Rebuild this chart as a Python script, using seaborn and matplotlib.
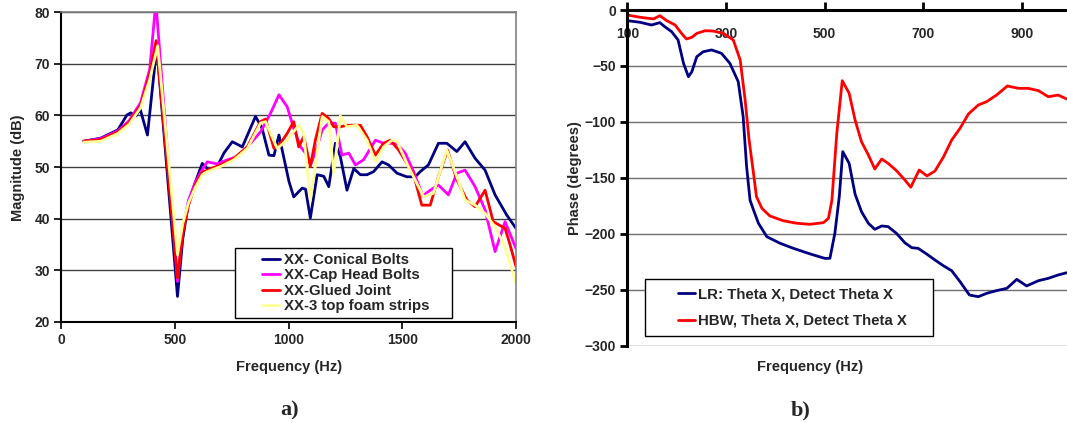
import matplotlib
matplotlib.use("Agg")
import matplotlib.pyplot as plt
from matplotlib.lines import Line2D
from matplotlib.legend_handler import HandlerLine2D
import seaborn as sns
import pandas as pd

# ---------------- data: panel a) magnitude ----------------
conical_f = [100, 175, 250, 290, 307, 329, 348, 380, 421, 512, 535, 560, 590, 621, 650, 687, 716, 753, 797,
             855, 884, 914, 936, 958, 1002, 1023, 1060, 1075, 1096, 1126, 1155, 1177, 1206, 1228, 1257, 1287,
             1316, 1345, 1374, 1411, 1440, 1477, 1520, 1557, 1579, 1615, 1659, 1696, 1740, 1776, 1820, 1864,
             1908, 1959, 2000]
conical_v = [55.0, 55.6, 57.2, 60.1, 60.5, 59.9, 61.2, 56.2, 73.3, 24.9, 36.0, 43.0, 47.0, 50.7, 49.4, 50.1,
             52.7, 54.9, 53.9, 59.8, 57.5, 52.3, 52.2, 56.2, 47.2, 44.2, 45.9, 45.7, 40.1, 48.5, 48.2, 46.2,
             54.6, 52.0, 45.5, 49.7, 48.5, 48.5, 49.1, 51.0, 50.4, 48.8, 48.1, 48.1, 49.1, 50.4, 54.6, 54.6,
             53.0, 54.9, 51.7, 49.4, 44.6, 40.7, 38.1]

caphead_f = [100, 175, 250, 300, 350, 390, 417, 512, 535, 560, 590, 621, 643, 687, 731, 775, 819, 877, 921,
             958, 994, 1023, 1053, 1075, 1100, 1126, 1148, 1177, 1206, 1235, 1265, 1294, 1330, 1382, 1418,
             1447, 1477, 1513, 1550, 1590, 1623, 1659, 1703, 1740, 1776, 1820, 1864, 1908, 1952, 2000]
caphead_v = [55.0, 55.5, 57.0, 59.0, 62.5, 69.0, 82.0, 27.8, 38.0, 43.5, 47.0, 49.5, 51.0, 50.6, 51.4, 52.0,
             53.9, 56.8, 60.4, 64.0, 61.7, 57.5, 53.9, 52.7, 50.7, 53.9, 57.2, 58.5, 58.5, 52.3, 52.7, 50.4,
             51.4, 55.2, 54.6, 54.6, 54.5, 52.7, 49.1, 44.4, 45.5, 46.5, 44.6, 48.8, 49.4, 46.2, 41.7, 33.6,
             39.4, 34.2]

glued_f = [100, 175, 250, 300, 350, 390, 418, 512, 535, 560, 590, 621, 643, 702, 760, 819, 877, 899, 936,
           965, 994, 1023, 1045, 1067, 1096, 1118, 1148, 1177, 1199, 1228, 1257, 1316, 1345, 1382, 1418,
           1447, 1484, 1520, 1550, 1586, 1623, 1659, 1699, 1740, 1784, 1820, 1864, 1900, 1952, 1974, 2000]
glued_v = [55.0, 55.3, 56.8, 58.7, 62.0, 68.0, 74.5, 28.5, 37.0, 42.5, 46.5, 49.0, 49.4, 50.4, 51.7, 53.9,
           58.8, 59.3, 53.6, 54.6, 56.5, 58.8, 53.9, 55.9, 50.1, 55.2, 60.4, 59.4, 57.8, 57.8, 58.1, 58.1,
           55.9, 52.3, 54.6, 55.2, 53.3, 50.7, 48.5, 42.6, 42.6, 48.1, 53.3, 47.5, 43.6, 42.3, 45.5, 39.4,
           38.1, 34.9, 30.7]

foam_f = [100, 175, 250, 300, 350, 390, 425, 512, 535, 560, 590, 621, 643, 702, 760, 819, 877, 899, 950,
          994, 1045, 1067, 1096, 1148, 1177, 1199, 1228, 1257, 1301, 1345, 1382, 1418, 1455, 1477, 1520,
          1594, 1637, 1696, 1740, 1776, 1820, 1864, 1908, 1952, 2000]
foam_v = [54.8, 55.0, 56.5, 58.3, 61.5, 67.0, 73.5, 33.0, 39.0, 43.0, 46.0, 48.5, 49.1, 50.1, 51.4, 53.6,
          58.5, 58.8, 53.6, 55.2, 58.1, 56.5, 43.5, 59.8, 58.8, 48.8, 59.9, 57.8, 58.1, 55.2, 51.0, 53.9,
          55.2, 55.0, 50.7, 44.2, 44.9, 53.3, 48.1, 43.6, 42.6, 41.0, 38.4, 34.5, 27.4]

mag_labels = ["XX- Conical Bolts", "XX-Cap Head Bolts", "XX-Glued Joint", "XX-3 top foam strips"]
mag_colors = ["#000080", "#ff00ff", "#ff0000", "#ffff99"]

# ---------------- data: panel b) phase ----------------
lr_f = [100, 126, 149, 166, 176, 190, 203, 214, 224, 231, 241, 254, 271, 291, 308, 325, 335, 342, 349, 356,
        366, 383, 410, 437, 471, 501, 511, 521, 530, 537, 550, 562, 575, 589, 602, 616, 629, 646, 663, 677,
        690, 707, 724, 741, 758, 775, 794, 812, 829, 849, 870, 890, 910, 934, 954, 974, 991]
lr_v = [-9.5, -11, -13.4, -11.3, -14.9, -19.4, -26.8, -47.6, -59.6, -55.1, -41.7, -37.3, -35.7, -38.7,
        -47.6, -64, -95.3, -140, -170, -178.7, -190.6, -202.6, -208.5, -213, -218, -222, -221.9, -199.6,
        -166.8, -126.6, -137, -164.5, -180.2, -190.6, -196, -193, -193.6, -199.6, -208, -212.4, -213, -218,
        -223.4, -228.5, -233, -242.8, -254.7, -256.2, -253.2, -250.8, -248.7, -240.7, -246.6, -241.9,
        -239.8, -236.8, -234.8]

hbw_f = [100, 126, 153, 166, 180, 197, 210, 220, 231, 241, 258, 274, 295, 315, 329, 339, 347, 356, 362, 373,
         389, 416, 444, 471, 498, 508, 515, 525, 536, 550, 562, 575, 589, 602, 616, 629, 646, 663, 675, 692,
         708, 724, 741, 758, 775, 792, 812, 829, 849, 871, 893, 913, 934, 954, 974, 991]
hbw_v = [-4.5, -6.5, -8, -5.1, -9.5, -13.4, -20.9, -25.9, -24.4, -20.9, -18.5, -18.8, -20.9, -26.8, -44.7,
         -80.4, -116, -146, -166.8, -177.2, -184, -188.3, -190.6, -191.5, -190, -186.2, -170, -110, -63.2,
         -74.4, -98.3, -117.7, -129.6, -142.1, -133.2, -137, -143.6, -151.9, -158.4, -143, -148.3, -143.9,
         -131.6, -116.2, -105.7, -92.9, -84.9, -81.9, -76, -67.9, -70, -70, -72.1, -77.5, -76, -79.5]

phase_labels = ["LR: Theta X, Detect Theta X", "HBW, Theta X, Detect Theta X"]
phase_colors = ["#000080", "#ff0000"]

mag_xticks = [0, 500, 1000, 1500, 2000]
mag_yticks = [20, 30, 40, 50, 60, 70, 80]
ph_xticks = [100, 300, 500, 700, 900]
ph_yticks = [0, -50, -100, -150, -200, -250, -300]

# ---------------- style ----------------
sns.set_theme(style="white")
plt.rcParams["font.family"] = ["Liberation Sans", "DejaVu Sans"]
plt.rcParams["font.weight"] = "bold"

W, H = 1067, 423
fig = plt.figure(figsize=(W / 100, H / 100), dpi=100)
fig.patch.set_facecolor("white")

def fx(px):
    return px / W

def fy(py):
    return 1 - py / H

LEG_FS = 10.8

# ---------------- panel a ----------------
ax1 = fig.add_axes([fx(61), fy(321.7), (516 - 61) / W, 309.4 / H])
mag_df = pd.concat([
    pd.DataFrame({"f": conical_f, "v": conical_v, "s": mag_labels[0]}),
    pd.DataFrame({"f": caphead_f, "v": caphead_v, "s": mag_labels[1]}),
    pd.DataFrame({"f": glued_f, "v": glued_v, "s": mag_labels[2]}),
    pd.DataFrame({"f": foam_f, "v": foam_v, "s": mag_labels[3]}),
])
for lab, col in zip(mag_labels, mag_colors):
    d = mag_df[mag_df["s"] == lab]
    sns.lineplot(data=d, x="f", y="v", ax=ax1, color=col, lw=2.0, label=lab,
                 estimator=None, sort=False)
ax1.set_xlim(0, 2000)
ax1.set_ylim(20, 80)
ax1.set_xticks(mag_xticks)
ax1.set_yticks(mag_yticks)
ax1.set_xlabel("")
ax1.set_ylabel("")
ax1.grid(axis="y", color="#404040", lw=1.0)
ax1.grid(axis="x", visible=False)
for s in ["left", "bottom"]:
    ax1.spines[s].set_color("black")
    ax1.spines[s].set_linewidth(1.5)
for s in ["top", "right"]:
    ax1.spines[s].set_color("#808080")
    ax1.spines[s].set_linewidth(1.2)
ax1.tick_params(axis="both", direction="out", length=5, width=1.2, color="black",
                labelsize=10, pad=3, left=True, bottom=True)
for t in ax1.get_xticklabels() + ax1.get_yticklabels():
    t.set_fontweight("bold")
fs_px = LEG_FS * 100 / 72
leg1 = ax1.legend(loc="upper left",
                  bbox_to_anchor=(fx(235), fy(316), 217 / W, 67.7 / H),
                  bbox_transform=fig.transFigure, mode="expand", frameon=True, fancybox=False,
                  edgecolor="black", framealpha=1, borderaxespad=0, borderpad=0.3,
                  handlelength=(22.7 + 17.6) / fs_px, handletextpad=0.25, labelspacing=0.1,
                  handler_map={Line2D: HandlerLine2D(xpad=22.7 / fs_px)},
                  prop={"weight": "bold", "size": LEG_FS})
leg1.get_frame().set_linewidth(1.0)

# ---------------- panel b ----------------
ax2 = fig.add_axes([fx(627.3), fy(345.7), (1071 - 627.3) / W, 335.7 / H])
ph_df = pd.concat([
    pd.DataFrame({"f": lr_f, "v": lr_v, "s": phase_labels[0]}),
    pd.DataFrame({"f": hbw_f, "v": hbw_v, "s": phase_labels[1]}),
])
for lab, col in zip(phase_labels, phase_colors):
    d = ph_df[ph_df["s"] == lab]
    sns.lineplot(data=d, x="f", y="v", ax=ax2, color=col, lw=2.0, label=lab,
                 estimator=None, sort=False)
ax2.set_xlim(100, 1000)
ax2.set_ylim(-300, 0)
ax2.set_xticks(ph_xticks)
ax2.set_yticks(ph_yticks)
ax2.set_xlabel("")
ax2.set_ylabel("")
ax2.grid(axis="y", color="#707070", lw=1.0)
ax2.grid(axis="x", visible=False)
ax2.spines["bottom"].set_position(("axes", 1.0))
ax2.spines["bottom"].set_linewidth(2.2)
ax2.spines["bottom"].set_color("black")
ax2.spines["left"].set_linewidth(2.2)
ax2.spines["left"].set_color("black")
ax2.spines["top"].set_visible(False)
ax2.spines["right"].set_visible(False)
ax2.tick_params(axis="x", direction="in", length=6, width=2, color="black",
                labelsize=10, pad=12, bottom=True)
ax2.tick_params(axis="y", direction="out", length=5, width=2, color="black",
                labelsize=10, pad=3, left=True)
for t in ax2.get_xticklabels() + ax2.get_yticklabels():
    t.set_fontweight("bold")
leg2 = ax2.legend(loc="upper left",
                  bbox_to_anchor=(fx(645), fy(336), (932.7 - 645) / W, 56.7 / H),
                  bbox_transform=fig.transFigure, mode="expand", frameon=True, fancybox=False,
                  edgecolor="black", framealpha=1, borderaxespad=0, borderpad=0.55,
                  handlelength=(25 + 17) / fs_px, handletextpad=0.2, labelspacing=0.82,
                  handler_map={Line2D: HandlerLine2D(xpad=25 / fs_px)},
                  prop={"weight": "bold", "size": LEG_FS})
leg2.get_frame().set_linewidth(1.0)

# ---------------- labels ----------------
fig.text(fx(18), fy(168), "Magnitude (dB)", rotation=90, ha="center", va="center",
         fontsize=10.5, fontweight="bold")
fig.text(fx(289), fy(367), "Frequency (Hz)", ha="center", va="center",
         fontsize=10.5, fontweight="bold")
fig.text(fx(575), fy(178), "Phase (degrees)", rotation=90, ha="center", va="center",
         fontsize=10.5, fontweight="bold")
fig.text(fx(810), fy(367), "Frequency (Hz)", ha="center", va="center",
         fontsize=10.5, fontweight="bold")
fig.text(fx(290), fy(410), "a)", ha="center", va="center", fontsize=16,
         fontweight="bold", family=["Liberation Serif", "DejaVu Serif"])
fig.text(fx(801), fy(410), "b)", ha="center", va="center", fontsize=16,
         fontweight="bold", family=["Liberation Serif", "DejaVu Serif"])

fig.savefig("out.png", dpi=100, facecolor="white")
